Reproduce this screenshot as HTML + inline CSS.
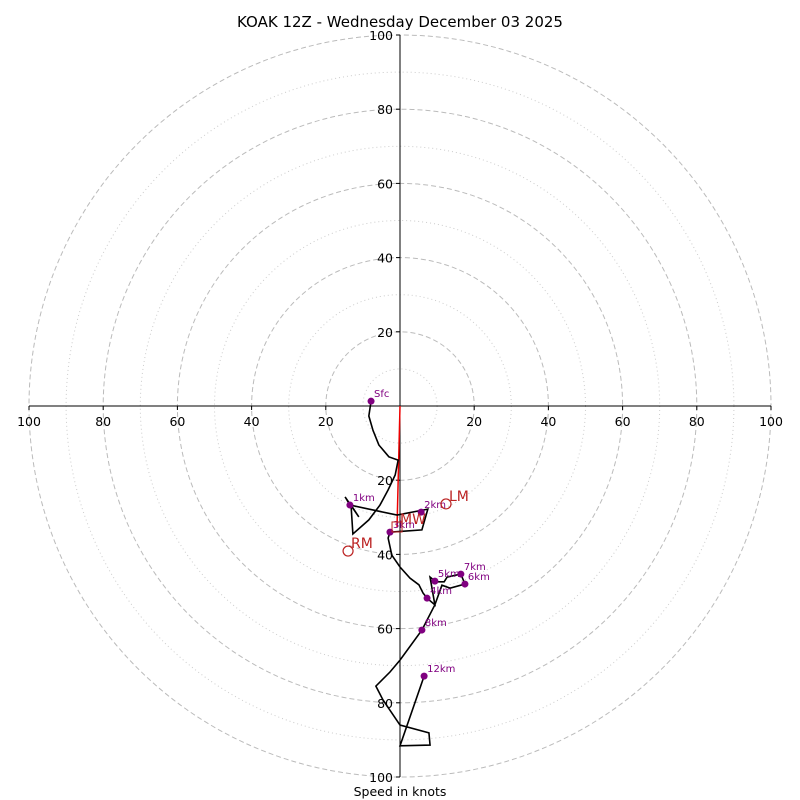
<!DOCTYPE html>
<html><head><meta charset="utf-8"><style>
body{margin:0;background:#fff;}
svg{display:block;font-family:"DejaVu Sans","Liberation Sans",sans-serif;}
</style></head><body>
<svg id="c" width="800" height="800" viewBox="0 0 800 800">
<text x="400" y="27" text-anchor="middle" font-size="15">KOAK 12Z - Wednesday December 03 2025</text>
<text x="400" y="796" text-anchor="middle" font-size="12.5">Speed in knots</text>
<g id="g"></g>
</svg>
<script>
const ringSpeeds=[10,20,30,40,50,60,70,80,90,100];
const tickValues=[20,40,60,80,100];
const traceU=[-7.8,-8.4,-7.3,-5.7,-3.0,-0.5,-1.3,-3.2,-5.4,-8.4,-12.7,-13.2,-11.1,-14.8,-13.5,-0.8,7.5,5.9,-2.7,-3.2,-2.2,0,2.7,5.1,6.2,7.3,9.4,8.1,9.7,11.9,12.7,16.4,17.5,13.5,11.3,9.4,5.9,0,-2.7,-6.5,-4.6,0,7.8,8.1,0,6.5];
const traceV=[1.3,-2.7,-6.5,-10.5,-13.7,-14.6,-18.6,-22.6,-26.7,-30.7,-34.5,-26.7,-29.9,-24.5,-26.7,-29.4,-27.8,-33.4,-34.0,-35.6,-40.2,-43.4,-46.4,-48.2,-50.4,-51.8,-53.6,-46.1,-47.4,-47.4,-46.1,-45.3,-48.0,-49.1,-48.3,-53.6,-60.4,-68.5,-71.7,-75.5,-79.2,-86.0,-88.1,-91.4,-91.6,-72.8];
const markerLabels=["Sfc","1km","2km","3km","4km","5km","6km","7km","8km","12km"];
const markerU=[-7.8,-13.5,5.7,-2.7,7.3,9.4,17.5,16.4,5.9,6.5];
const markerV=[1.3,-26.7,-28.6,-34.0,-51.8,-47.2,-48.0,-45.3,-60.4,-72.8];
const motionLabels=["LM","RM","MW"];
const motionU=[12.4,-14.0,-0.8];
const motionV=[-26.4,-39.1,-32.6];

const CX=400,CY=406,K=3.71;
const sx=u=>CX+u*K, sy=v=>CY-v*K;
const NS="http://www.w3.org/2000/svg";
const g=document.getElementById('g');
function mk(t,a,txt){const e=document.createElementNS(NS,t);for(const k in a)e.setAttribute(k,a[k]);if(txt!==undefined)e.textContent=txt;g.appendChild(e);return e;}

ringSpeeds.forEach(s=>{
  const e=mk('circle',{cx:CX,cy:CY,r:s*K,fill:'none',stroke:s%20===0?'#bbb':'#ccc','stroke-width':1,'stroke-dasharray':s%20===0?'5,3':'1,3'});
  
  
});
let ax=mk('line',{x1:sx(-100),y1:CY,x2:sx(100),y2:CY,stroke:'#000','stroke-width':1});


ax=mk('line',{x1:CX,y1:sy(100),x2:CX,y2:sy(-100),stroke:'#000','stroke-width':1});


tickValues.forEach(t=>{
  [-1,1].forEach(d=>{
    const x=sx(d*t);
    mk('line',{x1:x,y1:CY,x2:x,y2:CY+4,stroke:'#000'});
    const tl=mk('text',{x:x,y:CY+20,'text-anchor':'middle','font-size':12.5},String(t));
    
    
    const y=sy(d*t);
    mk('line',{x1:CX-4,y1:y,x2:CX,y2:y,stroke:'#000'});
    const yl=mk('text',{x:CX-7,y:y+5,'text-anchor':'end','font-size':12.5},String(t));
    
    
  });
});
const mw=mk('line',{x1:CX,y1:CY,x2:sx(motionU[2]),y2:sy(motionV[2]),stroke:'#e00','stroke-width':1.5});


const pts=traceU.map((u,i)=>sx(u)+','+sy(traceV[i])).join(' ');
const tr=mk('polyline',{points:pts,fill:'none',stroke:'#000','stroke-width':1.6,'stroke-linejoin':'miter'});


markerLabels.forEach((l,i)=>{
  const m=mk('circle',{cx:sx(markerU[i]),cy:sy(markerV[i]),r:3.5,fill:'purple'});
  
  
  const t=mk('text',{x:sx(markerU[i])+3,y:sy(markerV[i])-4,'font-size':10,fill:'purple'},l);
  
  
});
motionLabels.forEach((l,i)=>{
  const x=sx(motionU[i]),y=sy(motionV[i]);
  let m;
  if(l==='MW') m=mk('rect',{x:x-5,y:y-5,width:10,height:10,fill:'none',stroke:'#b22','stroke-width':1});
  else m=mk('circle',{cx:x,cy:y,r:5,fill:'none',stroke:'#b22','stroke-width':1.2});
  
  
  const t=mk('text',{x:x+3,y:y-3,'font-size':14,fill:'#b22'},l);
  
  
});
</script>
</body></html>
